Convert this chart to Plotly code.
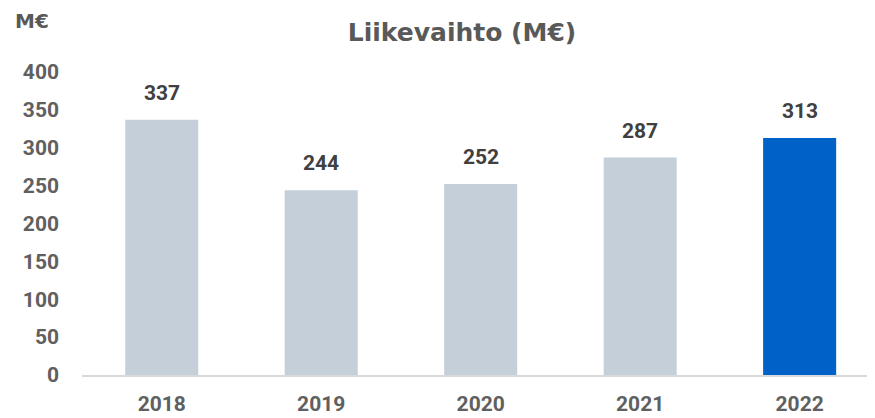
import plotly.graph_objects as go

years = ["2018", "2019", "2020", "2021", "2022"]
revenue = [337, 244, 252, 287, 313]
bar_colors = ["#C5CFDA", "#C5CFDA", "#C5CFDA", "#C5CFDA", "#0061C8"]
y_ticks = [0, 50, 100, 150, 200, 250, 300, 350, 400]

# page body has an 8px margin, so the figure is 8px smaller and shifted
W, H = 867, 410
L, T, B, R = 74, 64, 43, 2
PW, PH = W - L - R, H - T - B

fig = go.Figure()
fig.add_trace(go.Bar(
    x=list(range(len(years))), y=revenue,
    marker=dict(color=bar_colors, line=dict(width=0)),
    hoverinfo="skip", showlegend=False,
))

for i, v in enumerate(revenue):
    fig.add_annotation(x=i, y=v, xref="x", yref="y", text=str(v), showarrow=False,
                       yanchor="bottom", yshift=13,
                       font=dict(family="Roboto", size=21, color="#404040",
                                 weight="bold"))

fig.add_annotation(xref="paper", yref="paper", x=(5 - L) / PW, y=(T + PH - 13) / PH,
                   xanchor="left", yanchor="middle", text="<b>M€</b>", showarrow=False,
                   font=dict(family="DejaVu Sans", size=20, color="#595959"))

fig.update_layout(
    width=W, height=H,
    margin=dict(l=L, r=R, t=T, b=B, autoexpand=False),
    paper_bgcolor="white", plot_bgcolor="white",
    bargap=0.542,
    title=dict(text="<b>Liikevaihto (M€)</b>", x=454 / W, xanchor="center",
               y=1 - 24 / H, yanchor="middle",
               font=dict(family="DejaVu Sans", size=25, color="#595959")),
    xaxis=dict(range=[-0.5, 4.46], showgrid=False, zeroline=False, automargin=False,
               tickvals=list(range(len(years))), ticktext=years,
               showline=True, linecolor="#D9D9D9", linewidth=1.5,
               ticks="", ticklabelstandoff=9,
               tickfont=dict(family="Roboto", size=21, color="#606060", weight="bold")),
    yaxis=dict(range=[0, 400], tickvals=y_ticks, showgrid=False, zeroline=False,
               automargin=False, showline=False, ticks="", ticklabelstandoff=22,
               tickfont=dict(family="Roboto", size=21, color="#606060", weight="bold")),
)

fig.write_html("out.html")
